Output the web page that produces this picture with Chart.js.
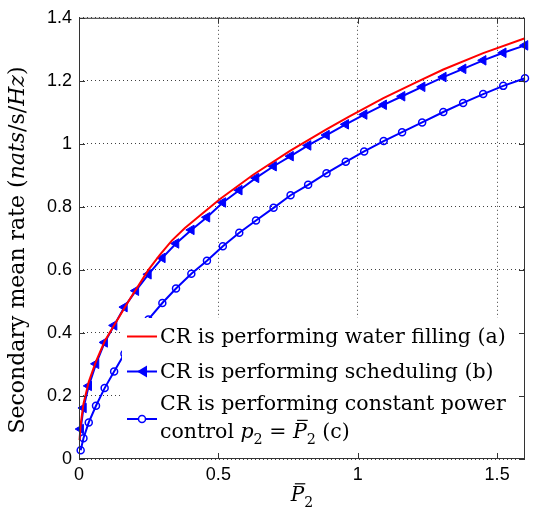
<!DOCTYPE html>
<html>
<head>
<meta charset="utf-8">
<script src="https://cdn.jsdelivr.net/npm/chart.js@4.4.1/dist/chart.umd.min.js"></script>
<style>
  body { margin: 0; background: #fff; }
</style>
</head>
<body>
<canvas id="rateChart" width="534" height="510"></canvas>

<script>
// average power constraint P2 (shared by the marker curves)
const pBar = [0.006, 0.016, 0.035, 0.061, 0.092, 0.126, 0.163, 0.204, 0.249, 0.299,
              0.348, 0.403, 0.459, 0.516, 0.575, 0.635, 0.698, 0.759, 0.822, 0.888,
              0.957, 1.023, 1.093, 1.159, 1.231, 1.307, 1.378, 1.450, 1.522, 1.6];
// (b) scheduling
const rateSched = [0.095, 0.162, 0.232, 0.302, 0.370, 0.424, 0.482, 0.534, 0.586, 0.638,
                   0.684, 0.727, 0.767, 0.814, 0.853, 0.892, 0.929, 0.961, 0.995, 1.028,
                   1.062, 1.093, 1.124, 1.151, 1.181, 1.212, 1.238, 1.265, 1.289, 1.3125];
// (c) constant power control
const rateConst = [0.028, 0.066, 0.116, 0.169, 0.225, 0.278, 0.334, 0.389, 0.443, 0.495,
                   0.541, 0.588, 0.629, 0.675, 0.718, 0.757, 0.797, 0.837, 0.870, 0.907,
                   0.943, 0.976, 1.009, 1.037, 1.068, 1.101, 1.130, 1.158, 1.184, 1.208];
// (a) water filling (plain line)
const pWF = [0.002, 0.006, 0.016, 0.035, 0.061, 0.093, 0.177, 0.249, 0.29, 0.333, 0.38,
             0.434, 0.506, 0.625, 0.757, 0.889, 0.972, 1.092, 1.211, 1.307, 1.450, 1.6];
const rateWF = [0.06, 0.11, 0.175, 0.245, 0.31, 0.375, 0.50, 0.600, 0.648, 0.693, 0.733,
                0.773, 0.825, 0.902, 0.978, 1.047, 1.088, 1.145, 1.196, 1.236, 1.288, 1.335];

const xTicks = [0, 0.5, 1, 1.5];
const yTicks = [0, 0.2, 0.4, 0.6, 0.8, 1, 1.2, 1.4];

const legendRows = [
  'CR is performing water filling (a)',
  'CR is performing scheduling (b)',
  'CR is performing constant power'
];

const RED = '#ff0000';
const BLUE = '#0000ff';
const SERIF = '"DejaVu Serif", serif';

function pts(xs, ys) {
  return xs.map((x, i) => ({x: x, y: ys[i]}));
}

// text runs with italic / subscript / bar parts
function runsWidth(ctx, runs, size) {
  let w = 0;
  runs.forEach(r => {
    ctx.font = (r.it ? 'italic ' : '') + (r.sub ? size * 0.7 : size) + 'px ' + SERIF;
    w += ctx.measureText(r.t).width;
  });
  return w;
}
function drawRuns(ctx, runs, x, y, size) {
  runs.forEach(r => {
    const s = r.sub ? size * 0.7 : size;
    ctx.font = (r.it ? 'italic ' : '') + s + 'px ' + SERIF;
    ctx.fillText(r.t, x, y + (r.sub ? size * 0.28 : 0));
    const w = ctx.measureText(r.t).width;
    if (r.bar) {
      ctx.save();
      ctx.lineWidth = 1.2;
      ctx.beginPath();
      ctx.moveTo(x + w * 0.3, y - size * 0.86);
      ctx.lineTo(x + w + 1, y - size * 0.86);
      ctx.stroke();
      ctx.restore();
    }
    x += w;
  });
}

const overlay = {
  id: 'overlay',
  afterDraw(chart) {
    const ctx = chart.ctx;
    const a = chart.chartArea;
    const xs = chart.scales.x, ys = chart.scales.y;
    ctx.save();
    ctx.textBaseline = 'alphabetic';
    ctx.textAlign = 'left';

    // legend: white box over the plot, no border
    ctx.fillStyle = '#fff';
    ctx.fillRect(122, 318, a.right - 122 - 1, a.bottom - 318 - 1);
    ctx.lineWidth = 2;
    ctx.strokeStyle = RED;
    ctx.beginPath(); ctx.moveTo(127, 336.5); ctx.lineTo(157, 336.5); ctx.stroke();
    ctx.strokeStyle = BLUE;
    ctx.beginPath(); ctx.moveTo(127, 371.5); ctx.lineTo(157, 371.5); ctx.stroke();
    ctx.beginPath(); ctx.moveTo(127, 419); ctx.lineTo(157, 419); ctx.stroke();
    ctx.fillStyle = BLUE;
    ctx.beginPath();
    ctx.moveTo(137, 371.5); ctx.lineTo(147, 365.5); ctx.lineTo(147, 377.5); ctx.closePath();
    ctx.fill();
    ctx.lineWidth = 1.5;
    ctx.beginPath(); ctx.arc(142, 419, 3.5, 0, Math.PI * 2);
    ctx.fillStyle = '#fff'; ctx.fill(); ctx.stroke();

    ctx.fillStyle = '#000';
    ctx.strokeStyle = '#000';
    ctx.font = '20.5px ' + SERIF;
    ctx.fillText(legendRows[0], 160, 342.5);
    ctx.fillText(legendRows[1], 160, 378);
    ctx.fillText(legendRows[2], 160, 410);
    drawRuns(ctx, [
      {t: 'control '}, {t: 'p', it: true}, {t: '2', sub: true}, {t: ' = '},
      {t: 'P', it: true, bar: true}, {t: '2', sub: true}, {t: ' (c)'}
    ], 160, 438, 20.5);

    // axes box and inward ticks
    ctx.strokeStyle = '#333';
    ctx.lineWidth = 1;
    ctx.strokeRect(a.left + 0.5, a.top + 0.5, a.right - a.left - 1, a.bottom - a.top - 1);
    ctx.beginPath();
    xs.ticks.forEach(t => {
      const px = Math.round(xs.getPixelForValue(t.value)) + 0.5;
      ctx.moveTo(px, a.bottom); ctx.lineTo(px, a.bottom - 6);
      ctx.moveTo(px, a.top); ctx.lineTo(px, a.top + 6);
    });
    ys.ticks.forEach(t => {
      const py = Math.round(ys.getPixelForValue(t.value)) + 0.5;
      ctx.moveTo(a.left, py); ctx.lineTo(a.left + 6, py);
      ctx.moveTo(a.right, py); ctx.lineTo(a.right - 6, py);
    });
    ctx.stroke();

    // x title  \bar{P}_2
    ctx.fillStyle = '#000';
    ctx.strokeStyle = '#000';
    const xr = [{t: 'P', it: true, bar: true}, {t: '2', sub: true}];
    const xw = runsWidth(ctx, xr, 20);
    drawRuns(ctx, xr, (a.left + a.right) / 2 - xw / 2, 501, 20);

    // y title
    const yr = [{t: 'Secondary mean rate ('}, {t: 'nats', it: true}, {t: '/s/'},
                {t: 'Hz', it: true}, {t: ')'}];
    const yw = runsWidth(ctx, yr, 22);
    ctx.translate(24, 250);
    ctx.rotate(-Math.PI / 2);
    drawRuns(ctx, yr, -yw / 2, 0, 22);
    ctx.restore();
  }
};

const ctx = document.getElementById('rateChart').getContext('2d');
new Chart(ctx, {
  type: 'line',
  data: {
    datasets: [
      {
        label: 'CR is performing water filling (a)',
        data: pts(pWF, rateWF),
        borderColor: RED,
        borderWidth: 2,
        pointRadius: 0,
        tension: 0,
        clip: 8
      },
      {
        label: 'CR is performing scheduling (b)',
        data: pts(pBar, rateSched),
        borderColor: BLUE,
        backgroundColor: BLUE,
        borderWidth: 2,
        pointStyle: 'triangle',
        rotation: 270,
        pointRadius: 5.5,
        pointBorderWidth: 1,
        tension: 0,
        clip: 8
      },
      {
        label: 'CR is performing constant power control',
        data: pts(pBar, rateConst),
        borderColor: BLUE,
        backgroundColor: 'rgba(0,0,0,0)',
        borderWidth: 2,
        pointStyle: 'circle',
        pointRadius: 3.5,
        pointBorderWidth: 1.5,
        tension: 0,
        clip: 8
      }
    ]
  },
  options: {
    responsive: false,
    animation: false,
    layout: { padding: { top: 11, right: 9, left: 0, bottom: 0 } },
    plugins: {
      legend: { display: false },
      tooltip: { enabled: false }
    },
    scales: {
      x: {
        type: 'linear',
        min: 0,
        max: 1.6,
        afterBuildTicks: s => { s.ticks = xTicks.map(v => ({value: v})); },
        afterFit: s => { s.height = 51; },
        grid: { color: 'rgba(0,0,0,0.75)', lineWidth: 1, drawTicks: false },
        border: { display: false, dash: [1, 3] },
        ticks: {
          padding: 5,
          color: '#000',
          font: { family: '"Liberation Sans", Arial, sans-serif', size: 18 },
          callback: v => String(v)
        }
      },
      y: {
        type: 'linear',
        min: 0,
        max: 1.4,
        afterBuildTicks: s => { s.ticks = yTicks.map(v => ({value: v})); },
        afterFit: s => { s.width = 79; },
        grid: { color: 'rgba(0,0,0,0.75)', lineWidth: 1, drawTicks: false },
        border: { display: false, dash: [1, 3] },
        ticks: {
          padding: 7,
          color: '#000',
          font: { family: '"Liberation Sans", Arial, sans-serif', size: 18 },
          callback: v => String(v)
        }
      }
    }
  },
  plugins: [overlay]
});
</script>
</body>
</html>
